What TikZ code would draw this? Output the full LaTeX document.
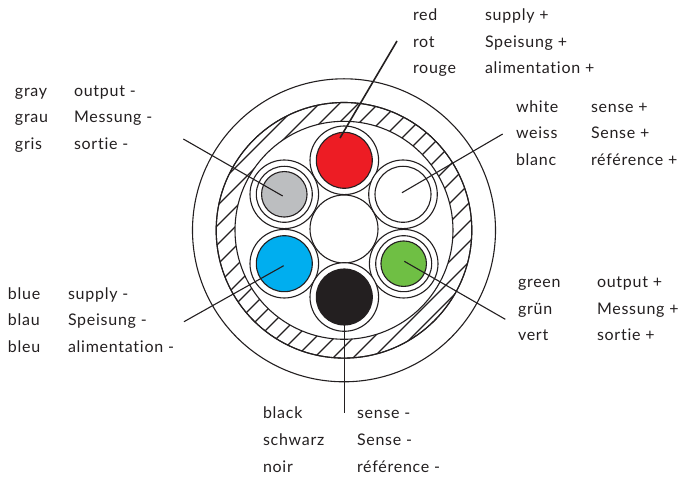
\documentclass[tikz,border=0pt]{standalone}
\usepackage{fontspec}
\setmainfont[LetterSpace=4.6,Ligatures=NoCommon]{Lato}
\definecolor{ink}{HTML}{231F20}
\definecolor{cred}{HTML}{ED1C24}
\definecolor{cblue}{HTML}{00AEEF}
\definecolor{cgreen}{HTML}{6FBF44}
\definecolor{cgray}{HTML}{BCBEC0}
\tikzset{
  disc/.style={circle,draw=ink,line width=1.1pt,inner sep=0pt,outer sep=0pt,minimum size=#1,fill=white},
  lead/.style={draw=ink,line width=1.1pt},
  txt/.style={anchor=base west,inner sep=0pt,outer sep=0pt,text=ink,yshift=-0.8pt,font=\fontsize{16}{19}\selectfont},
}
\begin{document}
\begin{tikzpicture}[x=1pt,y=-1pt]
\useasboundingbox (0,0) rectangle (678,478);
\node[disc=303pt] (jacket) at (344,230.3) {};
\node[disc=255.6pt] (shield) at (344,230.3) {};
\begin{scope}
  \clip (344,230.3) circle (127.8pt);
  \foreach \s in {403,423,443,462,482,502,521,540,559,577,596,615,633,653,672,691,711,731,749}
    \draw[ink,line width=1.1pt] ({\s-80},80) -- ({\s-380},380);
\end{scope}
\node[disc=255.6pt,fill=none] (shieldedge) at (344,230.3) {};
\node[disc=218pt] (inner) at (344,230.3) {};
\node[disc=68pt] (filler) at (344,229) {};
% red
\node[disc=68.6pt] (redo) at (344.3,160.3) {};
\node[disc=56pt,fill=cred] (redc) at (344.3,160.3) {};
% white
\node[disc=68.6pt] (whiteo) at (403,194.3) {};
\node[disc=56pt] (whitec) at (403,194.3) {};
% gray
\node[disc=68.6pt] (grayo) at (284.3,194.3) {};
\node[disc=56pt] (graym) at (284.3,194.3) {};
\node[disc=45.5pt,fill=cgray] (grayc) at (284.3,194.3) {};
% blue
\node[disc=68.6pt] (blueo) at (284.3,263.7) {};
\node[disc=56pt,fill=cblue] (bluec) at (284.3,263.7) {};
% green
\node[disc=68.6pt] (greeno) at (403.7,263.7) {};
\node[disc=56pt] (greenm) at (403.7,263.7) {};
\node[disc=45.5pt,fill=cgreen] (greenc) at (403.7,263.7) {};
% black
\node[disc=68.6pt] (blacko) at (344.3,297) {};
\node[disc=56pt,fill=ink] (blackc) at (344.3,297) {};
% leaders
\coordinate (redin) at (340,138);
\coordinate (redout) at (397,41);
\coordinate (whitein) at (402,192.7);
\coordinate (whiteout) at (502.7,134);
\coordinate (grayin) at (282.7,196);
\coordinate (grayout) at (183.3,139);
\coordinate (bluein) at (283.7,265.7);
\coordinate (blueout) at (184,321.7);
\coordinate (greenin) at (404.3,261.3);
\coordinate (greenout) at (505.3,319.3);
\coordinate (blackin) at (344.5,325);
\coordinate (blackout) at (344.5,413);
\draw[lead,line width=1.6pt] (redin) -- (redout);
\draw[lead] (whitein) -- (whiteout);
\draw[lead] (grayin) -- (grayout);
\draw[lead] (bluein) -- (blueout);
\draw[lead] (greenin) -- (greenout);
\draw[lead] (blackin) -- (blackout);
% labels
\node[txt] (t1) at (413,20) {red};     \node[txt] (t2) at (485,20) {supply +};
\node[txt] (t3) at (413,47) {rot};     \node[txt] (t4) at (485,47) {Speisung +};
\node[txt] (t5) at (413,73) {rouge};   \node[txt] (t6) at (485,73) {alimentation +};
\node[txt] (t7) at (516,112) {white};  \node[txt] (t8) at (591,112) {sense +};
\node[txt] (t9) at (516,138) {weiss};  \node[txt] (t10) at (591,138) {Sense +};
\node[txt] (t11) at (516,165) {blanc}; \node[txt] (t12) at (591,165) {référence +};
\node[txt] (t13) at (15,96) {gray};    \node[txt] (t14) at (74,96) {output -};
\node[txt] (t15) at (15,122) {grau};   \node[txt] (t16) at (74,122) {Messung -};
\node[txt] (t17) at (15,149) {gris};   \node[txt] (t18) at (74,149) {sortie -};
\node[txt] (t19) at (8,299) {blue};    \node[txt] (t20) at (68,299) {supply -};
\node[txt] (t21) at (8,325) {blau};    \node[txt] (t22) at (68,325) {Speisung -};
\node[txt] (t23) at (8,352) {bleu};    \node[txt] (t24) at (68,352) {alimentation -};
\node[txt] (t25) at (518,287) {green}; \node[txt] (t26) at (597,287) {output +};
\node[txt] (t27) at (518,314) {grün};  \node[txt] (t28) at (597,314) {Messung +};
\node[txt] (t29) at (518,340) {vert};  \node[txt] (t30) at (597,340) {sortie +};
\node[txt] (t31) at (263,418) {black}; \node[txt] (t32) at (357,418) {sense -};
\node[txt] (t33) at (263,445) {schwarz}; \node[txt] (t34) at (357,445) {Sense -};
\node[txt] (t35) at (263,472) {noir};  \node[txt] (t36) at (357,472) {référence -};
\end{tikzpicture}
\end{document}
